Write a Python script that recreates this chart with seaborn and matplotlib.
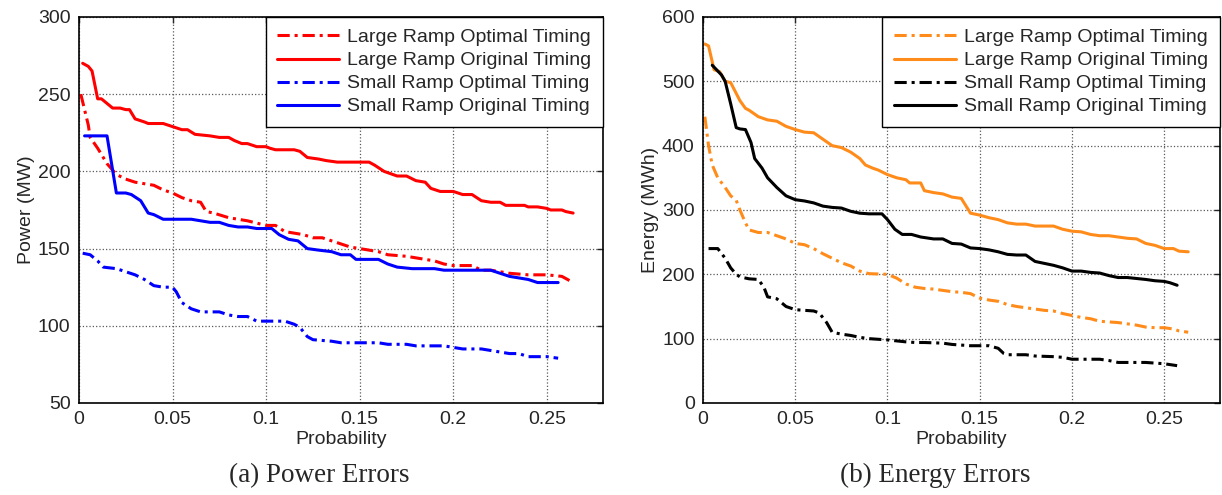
import numpy as np
import pandas as pd
import seaborn as sns
import matplotlib.pyplot as plt

# power errors (left panel)
p_lopt_x = [0.001, 0.005, 0.006, 0.01, 0.015, 0.02, 0.025, 0.03, 0.035, 0.04, 0.045, 0.05, 0.055, 0.06, 0.065,
            0.068, 0.072, 0.08, 0.09, 0.1, 0.105, 0.11, 0.115, 0.12, 0.125, 0.13, 0.135, 0.14, 0.145, 0.15, 0.16,
            0.165, 0.175, 0.18, 0.185, 0.19, 0.195, 0.2, 0.21, 0.215, 0.22, 0.225, 0.23, 0.24, 0.25, 0.258, 0.264]
p_lopt_y = [250, 230, 222, 215, 205, 198, 195, 193, 192, 191, 188, 186, 183, 181, 180,
            174, 173, 170, 168, 165, 165, 161, 160, 159, 157, 157, 155, 153, 151, 150, 148,
            146, 145, 144, 143, 142, 140, 139, 139, 136, 136, 135, 134, 133, 133, 132, 128]

p_lorg_x = [0.002, 0.005, 0.007, 0.01, 0.012, 0.018, 0.022, 0.025, 0.027, 0.03, 0.035, 0.037, 0.045, 0.05, 0.055,
            0.058, 0.062, 0.07, 0.075, 0.08, 0.083, 0.087, 0.09, 0.095, 0.1, 0.102, 0.105, 0.115, 0.118, 0.122,
            0.128, 0.132, 0.138, 0.155, 0.158, 0.163, 0.17, 0.175, 0.18, 0.185, 0.188, 0.193, 0.2, 0.205, 0.21,
            0.215, 0.22, 0.225, 0.228, 0.238, 0.24, 0.245, 0.25, 0.252, 0.258, 0.26, 0.264]
p_lorg_y = [270, 268, 265, 247, 247, 241, 241, 240, 240, 234, 232, 231, 231, 229, 227,
            227, 224, 223, 222, 222, 220, 218, 218, 216, 216, 215, 214, 214, 213, 209,
            208, 207, 206, 206, 204, 200, 197, 197, 194, 193, 189, 187, 187, 185, 185,
            181, 180, 180, 178, 178, 177, 177, 176, 175, 175, 174, 173]

p_sopt_x = [0.002, 0.006, 0.01, 0.013, 0.02, 0.025, 0.03, 0.035, 0.04, 0.045, 0.05, 0.052, 0.055, 0.06, 0.065,
            0.075, 0.08, 0.085, 0.09, 0.095, 0.1, 0.11, 0.115, 0.118, 0.122, 0.125, 0.135, 0.14, 0.15, 0.16,
            0.165, 0.175, 0.18, 0.195, 0.2, 0.205, 0.215, 0.22, 0.225, 0.23, 0.235, 0.24, 0.25, 0.256]
p_sopt_y = [147, 146, 142, 138, 137, 135, 133, 130, 126, 125, 125, 122, 115, 111, 109,
            109, 107, 106, 106, 103, 103, 103, 101, 99, 93, 91, 90, 89, 89, 89,
            88, 88, 87, 87, 86, 85, 85, 84, 83, 82, 82, 80, 80, 79]

p_sorg_x = [0.003, 0.015, 0.02, 0.025, 0.028, 0.033, 0.037, 0.04, 0.045, 0.05, 0.06, 0.065, 0.07, 0.075, 0.08,
            0.085, 0.09, 0.095, 0.1, 0.103, 0.107, 0.112, 0.117, 0.122, 0.128, 0.135, 0.14, 0.145, 0.148, 0.155,
            0.16, 0.165, 0.17, 0.178, 0.19, 0.195, 0.21, 0.22, 0.225, 0.23, 0.24, 0.245, 0.256]
p_sorg_y = [223, 223, 186, 186, 185, 181, 173, 172, 169, 169, 169, 168, 167, 167, 165,
            164, 164, 163, 163, 163, 159, 156, 155, 150, 149, 148, 146, 146, 143, 143,
            143, 140, 138, 137, 137, 136, 136, 136, 134, 132, 130, 128, 128]

# energy errors (right panel)
e_lopt_x = [0.001, 0.003, 0.005, 0.008, 0.012, 0.015, 0.018, 0.02, 0.023, 0.025, 0.03, 0.035, 0.04, 0.045, 0.05,
            0.055, 0.06, 0.065, 0.07, 0.075, 0.08, 0.085, 0.09, 0.1, 0.105, 0.11, 0.115, 0.12, 0.125, 0.13,
            0.135, 0.14, 0.145, 0.15, 0.155, 0.16, 0.165, 0.17, 0.175, 0.18, 0.185, 0.19, 0.195, 0.2, 0.205,
            0.21, 0.215, 0.22, 0.225, 0.23, 0.235, 0.24, 0.245, 0.25, 0.255, 0.258, 0.263]
e_lopt_y = [445, 400, 370, 350, 335, 322, 315, 300, 280, 269, 265, 265, 260, 255, 248,
            246, 240, 232, 225, 218, 213, 205, 201, 200, 194, 185, 180, 178, 177, 175,
            173, 172, 170, 163, 160, 158, 153, 150, 148, 146, 144, 143, 139, 136, 133,
            131, 127, 126, 125, 123, 121, 118, 117, 117, 115, 112, 110]

e_lorg_x = [0.001, 0.003, 0.006, 0.009, 0.012, 0.015, 0.02, 0.023, 0.025, 0.03, 0.035, 0.04, 0.045, 0.05, 0.055,
            0.06, 0.065, 0.07, 0.075, 0.08, 0.085, 0.088, 0.092, 0.095, 0.1, 0.105, 0.11, 0.112, 0.118, 0.12,
            0.125, 0.13, 0.135, 0.14, 0.145, 0.15, 0.155, 0.16, 0.165, 0.17, 0.175, 0.18, 0.19, 0.195, 0.2,
            0.205, 0.21, 0.215, 0.22, 0.225, 0.23, 0.235, 0.24, 0.245, 0.25, 0.255, 0.258, 0.263]
e_lorg_y = [558, 555, 518, 515, 500, 498, 470, 458, 455, 445, 440, 438, 430, 425, 421,
            420, 410, 400, 397, 390, 380, 370, 365, 362, 355, 350, 347, 342, 342, 330,
            327, 325, 320, 318, 295, 292, 288, 285, 280, 278, 278, 275, 275, 270, 267,
            266, 262, 260, 260, 258, 256, 255, 248, 245, 240, 240, 236, 235]

e_sopt_x = [0.003, 0.008, 0.012, 0.015, 0.018, 0.02, 0.025, 0.03, 0.033, 0.035, 0.04, 0.045, 0.05, 0.055, 0.06,
            0.063, 0.067, 0.07, 0.075, 0.08, 0.085, 0.09, 0.1, 0.11, 0.115, 0.12, 0.13, 0.135, 0.14, 0.145,
            0.155, 0.16, 0.163, 0.165, 0.175, 0.18, 0.19, 0.195, 0.2, 0.215, 0.22, 0.225, 0.235, 0.24, 0.25,
            0.257]
e_sopt_y = [240, 240, 225, 210, 200, 196, 193, 192, 180, 165, 162, 150, 145, 144, 143,
            140, 125, 110, 107, 105, 102, 100, 98, 95, 94, 94, 93, 91, 90, 89,
            89, 85, 77, 75, 75, 73, 72, 71, 68, 68, 66, 63, 63, 63, 61,
            58]

e_sorg_x = [0.005, 0.01, 0.012, 0.015, 0.018, 0.02, 0.023, 0.026, 0.028, 0.032, 0.035, 0.04, 0.045, 0.05, 0.055,
            0.06, 0.065, 0.07, 0.075, 0.08, 0.085, 0.09, 0.097, 0.1, 0.104, 0.108, 0.113, 0.118, 0.125, 0.13,
            0.135, 0.14, 0.145, 0.15, 0.155, 0.16, 0.165, 0.17, 0.175, 0.18, 0.185, 0.19, 0.195, 0.2, 0.205,
            0.21, 0.215, 0.22, 0.225, 0.23, 0.24, 0.245, 0.25, 0.253, 0.257]
e_sorg_y = [525, 510, 500, 465, 428, 426, 425, 405, 380, 365, 350, 335, 322, 316, 314,
            311, 306, 304, 303, 298, 295, 294, 294, 285, 270, 262, 262, 258, 255, 255,
            248, 247, 241, 240, 238, 235, 231, 230, 230, 220, 217, 214, 210, 205, 205,
            203, 202, 198, 195, 195, 192, 190, 189, 187, 183]

names = ["Large Ramp Optimal Timing", "Large Ramp Original Timing",
         "Small Ramp Optimal Timing", "Small Ramp Original Timing"]


def LongForm(series):

    """Stacks (name, x, y) triples into one long DataFrame."""

    frames = [pd.DataFrame({"Probability": x, "value": y, "series": n}) for n, x, y in series]
    return pd.concat(frames, ignore_index=True)


sns.set_style("white")
plt.rcParams["font.family"] = ["Liberation Sans", "DejaVu Sans"]

fig = plt.figure(figsize=(12.22, 4.95), dpi=100)
ax1 = fig.add_axes([0.0646, 0.1859, 0.4289, 0.7798])
ax2 = fig.add_axes([0.5753, 0.1859, 0.4227, 0.7798])

power = LongForm([(names[0], p_lopt_x, p_lopt_y), (names[1], p_lorg_x, p_lorg_y),
                  (names[2], p_sopt_x, p_sopt_y), (names[3], p_sorg_x, p_sorg_y)])
energy = LongForm([(names[0], e_lopt_x, e_lopt_y), (names[1], e_lorg_x, e_lorg_y),
                   (names[2], e_sopt_x, e_sopt_y), (names[3], e_sorg_x, e_sorg_y)])

orange = "#ff8c1a"
dd = (4, 1.6, 1, 1.6)
dashes = {names[0]: dd, names[1]: "", names[2]: dd, names[3]: ""}

panels = [
    (ax1, power, ["#ff0000", "#ff0000", "#0000ff", "#0000ff"], "Power (MW)", (50, 300), [50, 100, 150, 200, 250, 300]),
    (ax2, energy, [orange, orange, "black", "black"], "Energy (MWh)", (0, 600), [0, 100, 200, 300, 400, 500, 600]),
]

for ax, df, colors, ylabel, ylim, yticks in panels:
    sns.lineplot(data=df, x="Probability", y="value", hue="series", style="series",
                 hue_order=names, style_order=names, palette=dict(zip(names, colors)),
                 dashes=dashes, estimator=None, sort=False, linewidth=2.2, legend=False, ax=ax)
    ax.set_xlim(0, 0.28)
    ax.set_ylim(*ylim)
    ax.set_xticks([0, 0.05, 0.1, 0.15, 0.2, 0.25])
    ax.set_xticklabels(["0", "0.05", "0.1", "0.15", "0.2", "0.25"])
    ax.set_yticks(yticks)
    ax.grid(True, linestyle=":", color="0.35", linewidth=0.9)
    ax.tick_params(direction="in", top=True, right=True, length=4, width=1, labelsize=14, pad=6)
    for s in ax.spines.values():
        s.set_color("black")
        s.set_linewidth(1.2)
    ax.set_xlabel("Probability", fontsize=14, labelpad=2)
    ax.set_ylabel(ylabel, fontsize=14, labelpad=2)
    leg = ax.legend(ax.get_lines()[:4], names, loc="upper right", borderaxespad=0, fontsize=14,
                    handlelength=3.2, labelspacing=0.28, fancybox=False, framealpha=1,
                    edgecolor="black", borderpad=0.6, handletextpad=0.4)
    leg.get_frame().set_linewidth(1.0)

fig.text(0.261, 0.04, "(a) Power Errors", ha="center", va="center", fontsize=19.5, family="Liberation Serif")
fig.text(0.7656, 0.04, "(b) Energy Errors", ha="center", va="center", fontsize=19.5, family="Liberation Serif")

fig.savefig("out.png", dpi=100)
